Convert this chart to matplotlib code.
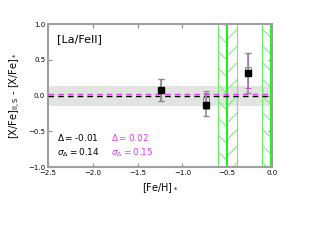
import matplotlib
matplotlib.use("Agg")
import matplotlib.pyplot as plt

feh = [-1.24, -0.74, -0.27]
diff_black = [0.08, -0.13, 0.31]
err_black = [0.15, 0.16, 0.28]
diff_mag = [0.08, -0.06, 0.35]
err_mag = [0.15, 0.13, 0.24]

delta_black, sigma_black = -0.01, 0.14
delta_mag, sigma_mag = 0.02, 0.15

green_centers = [-0.50, -0.01]
green_half = [0.105, 0.10]

label = "[La/FeII]"

plt.rcParams['hatch.linewidth'] = 0.7
fig = plt.figure(figsize=(3.2, 2.4), dpi=100)
ax = fig.add_axes([0.15, 0.304, 0.70, 0.596])

ax.axhspan(delta_black - sigma_black, delta_black + sigma_black,
           color='#e2e4df', zorder=0, lw=0)

for c, h in zip(green_centers, green_half):
    ax.axvspan(c - h, c, facecolor='none', edgecolor='#78e878', hatch='\\\\', lw=0, zorder=1)
    ax.axvspan(c, c + h, facecolor='none', edgecolor='#78e878', hatch='//', lw=0, zorder=1)
    ax.axvline(c - h, color='#66ee66', lw=0.8, zorder=2)
    ax.axvline(c + h, color='#66ee66', lw=0.8, zorder=2)
    ax.axvline(c, color='#22ee22', lw=1.5, zorder=2)

ax.axhline(delta_black, color='black', ls='--', lw=1.0, dashes=(4, 3), zorder=3)
ax.axhline(delta_mag, color='#dd44ee', ls='--', lw=1.0, dashes=(4, 3), zorder=3)

ax.errorbar(feh, diff_mag, yerr=err_mag, fmt='s', mfc='none', mec='#dd44ee',
            ecolor='#dd44ee', ms=5, mew=0.7, elinewidth=0.8, capsize=2, zorder=4)
ax.errorbar(feh, diff_black, yerr=err_black, fmt='s', color='black',
            ecolor='#908890', ms=5, elinewidth=1.2, capsize=2, zorder=5)

ax.set_xlim(-2.5, 0.0)
ax.set_ylim(-1.0, 1.0)
ax.set_xticks([-2.5, -2.0, -1.5, -1.0, -0.5, 0.0])
ax.set_yticks([-1.0, -0.5, 0.0, 0.5, 1.0])
ax.tick_params(direction='in', top=True, right=True, labelsize=5, length=3,
               color='#888888', pad=2)
for s in ax.spines.values():
    s.set_color('#a0a0a0')
    s.set_linewidth(1.5)

ax.set_xlabel(r'[Fe/H]$_*$', fontsize=7)
ax.set_ylabel(r'[X/Fe]$_{\rm II,S}$ - [X/Fe]$_*$', fontsize=7)

ax.text(0.04, 0.93, label, transform=ax.transAxes, fontsize=8, va='top')
ax.text(0.04, 0.18, r'$\Delta=$' + f'{delta_black:.2f}', transform=ax.transAxes,
        fontsize=6.5, color='black')
ax.text(0.04, 0.08, r'$\sigma_\Delta=$' + f'{sigma_black:.2f}', transform=ax.transAxes,
        fontsize=6.5, color='black')
ax.text(0.28, 0.18, r'$\Delta=$' + f'{delta_mag:.2f}', transform=ax.transAxes,
        fontsize=6.5, color='#dd44ee')
ax.text(0.28, 0.08, r'$\sigma_\Delta=$' + f'{sigma_mag:.2f}', transform=ax.transAxes,
        fontsize=6.5, color='#dd44ee')

fig.savefig('out.png', dpi=100)
